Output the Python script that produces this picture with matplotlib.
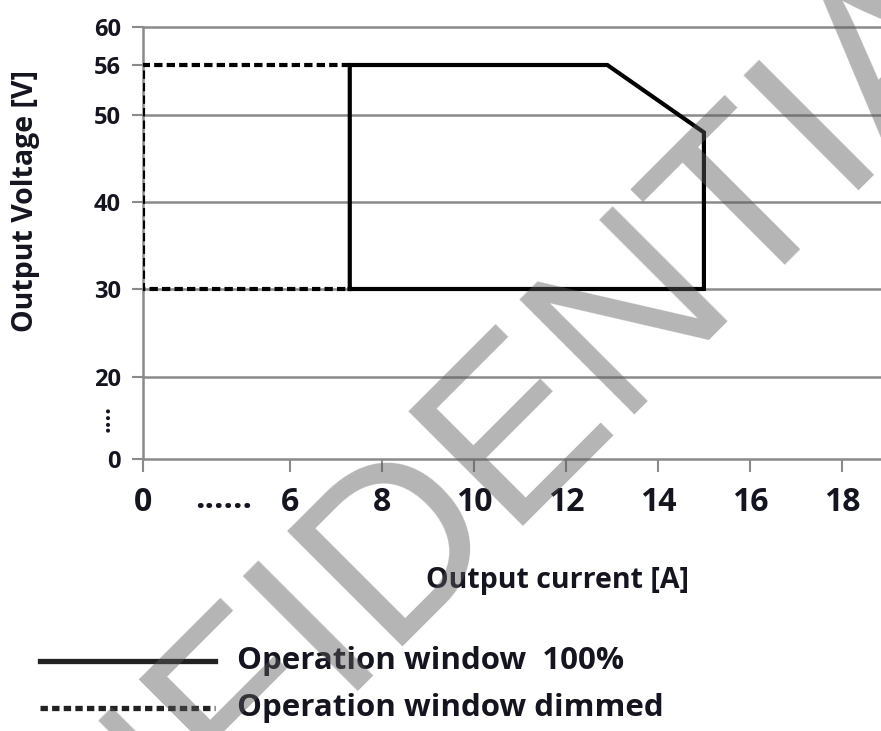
import matplotlib
matplotlib.use("Agg")
import matplotlib.pyplot as plt
import matplotlib.transforms as mtransforms
import numpy as np

# broken axes: value -> drawn position (px along the axis)
x_vals = [0, 6, 18]
x_pos  = [0, 147, 699]
y_vals = [0, 20, 30, 40, 50, 56, 60]
y_pos  = [0, 82, 170, 257, 344, 394, 432]

x_ticks = [0, 6, 8, 10, 12, 14, 16, 18]
y_ticks = [0, 20, 30, 40, 50, 56, 60]
y_grid  = [20, 30, 40, 50, 60]

# operation window 100%
full_i = [7.3, 7.3, 12.9, 15.0, 15.0, 7.3]
full_v = [30, 56, 56, 48, 30, 30]

# operation window dimmed
dim_i = [7.3, 0, 0, 7.3]
dim_v = [56, 56, 30, 30]


def piecewise(v, xs, ys):
    v = np.asarray(v, dtype=float)
    out = np.interp(v, xs, ys)
    lo = (ys[1] - ys[0]) / (xs[1] - xs[0])
    hi = (ys[-1] - ys[-2]) / (xs[-1] - xs[-2])
    out = np.where(v < xs[0], ys[0] + (v - xs[0]) * lo, out)
    out = np.where(v > xs[-1], ys[-1] + (v - xs[-1]) * hi, out)
    return out


plt.rcParams['font.family'] = ['Open Sans', 'DejaVu Sans']
plt.rcParams['font.weight'] = 'bold'
txt = '#151520'
grey = '#8a8a8a'

fig = plt.figure(figsize=(8.81, 7.31), dpi=100)
ax = fig.add_axes([143 / 881, 1 - 459 / 731, 738 / 881, 432 / 731])

ax.set_xscale('function', functions=(lambda v: piecewise(v, x_vals, x_pos),
                                     lambda p: piecewise(p, x_pos, x_vals)))
ax.set_yscale('function', functions=(lambda v: piecewise(v, y_vals, y_pos),
                                     lambda p: piecewise(p, y_pos, y_vals)))

for g in y_grid:
    ax.axhline(g, color=grey, lw=1.8, zorder=1, clip_on=False)

ax.plot(dim_i, dim_v, color='black', lw=3.0, dashes=(2, 1), zorder=3)
ax.plot(full_i, full_v, color='black', lw=3.0, zorder=4, solid_joinstyle='miter')

ax.set_xlim(0, 18.85)
ax.set_ylim(0, 60)
ax.set_xticks(x_ticks)
ax.set_yticks(y_ticks)
ax.minorticks_off()
ax.set_xticklabels([str(t) for t in x_ticks])
ax.set_yticklabels([str(t) for t in y_ticks])

for s in ['top', 'right']:
    ax.spines[s].set_visible(False)
for s in ['left', 'bottom']:
    ax.spines[s].set_color(grey)
    ax.spines[s].set_linewidth(1.8)

ax.tick_params(axis='x', direction='out', length=9.5, width=1.5, color=grey,
               labelsize=23, labelcolor=txt, pad=10)
ax.tick_params(axis='y', direction='out', length=8, width=1.5, color=grey,
               labelsize=17, labelcolor=txt, pad=8)

ax.set_xlabel('Output current [A]', fontsize=20.5, fontweight='bold', color=txt)
ax.xaxis.set_label_coords((557 - 143) / 738, -(566 - 459) / 432)
ax.set_ylabel('Output Voltage [V]', fontsize=20.5, fontweight='bold', color=txt,
              va='center')
ax.yaxis.set_label_coords(-(143 - 26) / 738, (459 - 201) / 432)

# break marks on both axes
bx = mtransforms.blended_transform_factory(ax.transData, ax.transAxes)
ax.text(3.3, -(500 - 459) / 432, '......', transform=bx, ha='center', va='center',
        fontsize=24, fontweight='bold', color=txt, clip_on=False)
by = mtransforms.blended_transform_factory(ax.transAxes, ax.transData)
ax.text(-(143 - 104) / 738, 10, '....', transform=by, ha='center', va='center',
        rotation=90, fontsize=17, fontweight='bold', color=txt, clip_on=False)

# legend below the chart
fig.lines.append(plt.Line2D([40 / 881, 215 / 881], [1 - 661 / 731] * 2,
                            transform=fig.transFigure, color='#222222', lw=3.8))
fig.lines.append(plt.Line2D([40 / 881, 215 / 881], [1 - 708 / 731] * 2,
                            transform=fig.transFigure, color='#222222', lw=3.8,
                            dashes=(1.4, 0.8)))
fig.text(237 / 881, 1 - 661 / 731, 'Operation window  100%', fontsize=22.5,
         fontweight='bold', color=txt, va='center', ha='left')
fig.text(237 / 881, 1 - 708 / 731, 'Operation window dimmed', fontsize=22.5,
         fontweight='bold', color=txt, va='center', ha='left')

# watermark
fig.text(436 / 881, 1 - 515 / 731, 'CONFIDENTIAL', fontsize=170, rotation=45,
         family='Liberation Sans', fontweight='normal', color='#5a5a5a', alpha=0.45,
         ha='center', va='center', rotation_mode='anchor', zorder=10)

fig.savefig('out.png', dpi=100)
